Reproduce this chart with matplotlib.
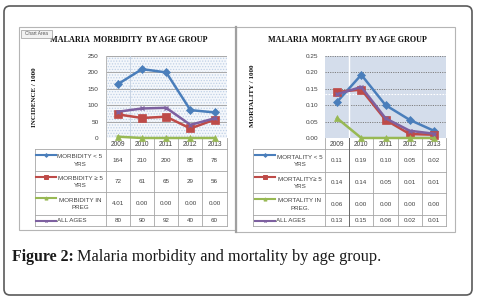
import matplotlib
matplotlib.use("Agg")
import matplotlib.pyplot as plt
from matplotlib.patches import Rectangle, FancyBboxPatch

# ---------------- data ----------------
years = ["2009", "2010", "2011", "2012", "2013"]

morb_u5 = [164, 210, 200, 85, 78]
morb_o5 = [72, 61, 65, 29, 56]
morb_preg = [4.01, 0.0, 0.0, 0.0, 0.0]
morb_all = [80, 90, 92, 40, 60]

mort_u5 = [0.11, 0.192, 0.10, 0.055, 0.022]
mort_o5 = [0.14, 0.147, 0.055, 0.012, 0.01]
mort_preg = [0.06, 0.0, 0.0, 0.0, 0.0]
mort_all = [0.133, 0.155, 0.06, 0.022, 0.013]

morb_labels = ["MORBIDITY < 5\nYRS", "MORBIDITY \u2265 5\nYRS", "MORBIDITY IN\nPREG", "ALL AGES"]
mort_labels = ["MORTALITY < 5\nYRS", "MORTALITY\u2265 5\nYRS", "MORTALITY IN\nPREG.", "ALL AGES"]

morb_table = [["164", "210", "200", "85", "78"],
              ["72", "61", "65", "29", "56"],
              ["4.01", "0.00", "0.00", "0.00", "0.00"],
              ["80", "90", "92", "40", "60"]]
mort_table = [["0.11", "0.19", "0.10", "0.05", "0.02"],
              ["0.14", "0.14", "0.05", "0.01", "0.01"],
              ["0.06", "0.00", "0.00", "0.00", "0.00"],
              ["0.13", "0.15", "0.06", "0.02", "0.01"]]

morb_ticks = [0, 50, 100, 150, 200, 250]
mort_ticks = [0.00, 0.05, 0.10, 0.15, 0.20, 0.25]

# ---------------- styles ----------------
W, H = 478, 300
BLUE, RED, GREEN, PURPLE = "#4A7EBB", "#BE4B48", "#98B954", "#7D60A0"
styles = [dict(color=BLUE, marker="D", ms=4.2),
          dict(color=RED, marker="s", ms=5.8),
          dict(color=GREEN, marker="^", ms=5.0),
          dict(color=PURPLE, marker="x", ms=3.5)]
SANS = "Liberation Sans"
SERIF = "Liberation Serif"
TXT = "#404040"
GRIDC = "#A6A6A6"

fig = plt.figure(figsize=(W / 100, H / 100), dpi=100)
fig.patch.set_facecolor("white")

ax0 = fig.add_axes([0, 0, 1, 1])
ax0.set_xlim(0, W)
ax0.set_ylim(H, 0)
ax0.axis("off")
ax0.set_zorder(0)


def rect(x0, y0, x1, y1):
    return [x0 / W, 1 - y1 / H, (x1 - x0) / W, (y1 - y0) / H]


# outer frame
ax0.add_patch(FancyBboxPatch((4, 6), 468, 289,
                             boxstyle="round,pad=0,rounding_size=6",
                             fc="white", ec="#5A5A5A", lw=1.2))
# chart boxes
ax0.add_patch(Rectangle((19, 27), 217, 203, fc="white", ec="#B5B5B5", lw=0.8))
ax0.add_patch(Rectangle((236, 27), 219, 205, fc="white", ec="#B5B5B5", lw=0.8))
ax0.plot([236, 236], [27, 232], color="#A0A0A0", lw=1.6)


def make_chart(px0, py0, px1, py1, series, ticks, ticklabels, ymax,
               labels, table, table_x0, rows_y, key_x, text_cx, bg):
    ax = fig.add_axes(rect(px0, py0, px1, py1))
    ax.set_zorder(2)
    ax.set_xlim(-0.5, 4.5)
    ax.set_ylim(0, ymax)
    ax.patch.set_alpha(0)
    for s in ax.spines.values():
        s.set_visible(False)
    ax.set_yticks(ticks)
    ax.set_yticklabels(ticklabels, fontsize=4.6, color=TXT, fontfamily=SANS)
    ax.set_xticks(range(len(years)))
    ax.set_xticklabels(years, fontsize=4.8, color=TXT, fontfamily=SANS)
    ax.tick_params(axis="both", length=0)
    ax.tick_params(axis="y", pad=5)
    ax.tick_params(axis="x", pad=2.2)
    bg(ax)
    for vals, st in zip(series, styles):
        ax.plot(range(len(years)), vals, lw=1.8, clip_on=False,
                mec=st["color"], mew=1.0 if st["marker"] == "x" else 0.5, **st)

    # table grid
    cols = [px0 + i * (px1 - px0) / 5 for i in range(6)]
    for y in rows_y[1:]:
        ax0.plot([table_x0, cols[-1]], [y, y], color=GRIDC, lw=0.6)
    ax0.plot([table_x0, table_x0], [rows_y[1], rows_y[-1]], color=GRIDC, lw=0.6)
    for c in cols:
        ax0.plot([c, c], [rows_y[0], rows_y[-1]], color=GRIDC, lw=0.6)
    for r in range(4):
        y0, y1 = rows_y[r + 1], rows_y[r + 2]
        yc = (y0 + y1) / 2
        for j in range(5):
            ax0.text((cols[j] + cols[j + 1]) / 2, yc + 0.3, table[r][j],
                     ha="center", va="center", fontsize=4.5, color=TXT,
                     fontfamily=SANS)
        st = styles[r]
        ky = y0 + 5.5 if "\n" in labels[r] else yc
        ax0.plot([key_x, key_x + 20], [ky, ky], color=st["color"], lw=1.5)
        ax0.plot([key_x + 10], [ky], color=st["color"], marker=st["marker"],
                 ms=st["ms"] * 0.45, mew=0.7, mec=st["color"])
        if "\n" in labels[r]:
            ax0.text(text_cx, yc + 0.3, labels[r], ha="center", va="center",
                     multialignment="center", fontsize=4.5, color=TXT,
                     fontfamily=SANS, linespacing=1.55)
        else:
            ax0.text(key_x + 21.5, yc + 0.3, labels[r], ha="left", va="center",
                     fontsize=4.5, color=TXT, fontfamily=SANS)
    return ax, cols


def bg_left(ax):
    plt.rcParams["hatch.linewidth"] = 0.6
    ax.add_patch(Rectangle((0, 0), 1, 1, transform=ax.transAxes, fc="#F4F7FB",
                           ec="#BFD0E6", hatch="......", lw=0, zorder=0))
    for t in morb_ticks[1:]:
        ax.axhline(t, color="#A8A8A8", lw=0.7, zorder=1)
    ax.axvline(0.5, color="#C8D4E4", lw=0.7, zorder=1)
    ax.plot([-0.5, -0.5], [0, 250], color="#B8B8B8", lw=0.7, clip_on=False)


def bg_right(ax):
    ax.add_patch(Rectangle((0, 0), 1, 1, transform=ax.transAxes, fc="#D4DDEB",
                           lw=0, zorder=0))
    for t in mort_ticks[1:]:
        ax.axhline(t, color="#7F7F7F", lw=0.7, ls=(0, (1.2, 1.2)), zorder=1)
    ax.axvline(0.5, color="white", lw=1.0, zorder=1)
    ax.axhline(0.1335, color="white", lw=0.8, ls=(0, (1.5, 1.2)), zorder=1)


make_chart(105.7, 56, 226.7, 138,
           [morb_u5, morb_o5, morb_preg, morb_all], morb_ticks,
           [str(t) for t in morb_ticks], 250, morb_labels, morb_table,
           34.7, [138, 149.3, 171, 192.3, 215, 226], 36, 80, bg_left)
ax_r, cols_r = make_chart(325, 55.7, 446, 138,
                          [mort_u5, mort_o5, mort_preg, mort_all], mort_ticks,
                          ["%.2f" % t for t in mort_ticks], 0.25, mort_labels,
                          mort_table, 253.3, [138, 149.3, 171.7, 193.3, 215, 226],
                          255, 300, bg_right)
ax0.plot([cols_r[1], cols_r[1]], [138, 226], color="#6A6A6A", lw=0.7, zorder=3)

# titles and axis labels
ax0.text(128.5, 40.5, "MALARIA  MORBIDITY  BY AGE GROUP", ha="center", va="center",
         fontfamily=SERIF, fontweight="bold", fontsize=5.9, color="#111111")
ax0.text(347, 39.5, "MALARIA  MORTALITY  BY AGE GROUP", ha="center", va="center",
         fontfamily=SERIF, fontweight="bold", fontsize=5.9, color="#111111")
ax0.text(35, 97, "INCIDENCE / 1000", rotation=90, ha="center", va="center",
         fontfamily=SERIF, fontweight="bold", fontsize=5.0, color="#111111")
ax0.text(253, 96, "MORTALITY / 1000", rotation=90, ha="center", va="center",
         fontfamily=SERIF, fontweight="bold", fontsize=5.0, color="#111111")

# "Chart Area" tooltip
ax0.add_patch(Rectangle((20.7, 30), 31.5, 7.5, fc="#F2F2F2", ec="#9A9A9A",
                        lw=0.5, zorder=5))
ax0.text(36.4, 33.9, "Chart Area", ha="center", va="center", fontsize=3.4,
         color="#555555", fontfamily=SANS, zorder=6)

# caption
t1 = ax0.text(12, 257, "Figure 2:", ha="left", va="center", fontfamily=SERIF,
              fontweight="bold", fontsize=11.4, color="#1A1A1A")
fig.canvas.draw()
bb = t1.get_window_extent()
xe = ax0.transData.inverted().transform((bb.x1, bb.y0))[0]
ax0.text(xe + 3, 257, "Malaria morbidity and mortality by age group.",
         ha="left", va="center", fontfamily=SERIF, fontsize=11.7,
         color="#1A1A1A")

fig.savefig("out.png", dpi=100, facecolor="white")
